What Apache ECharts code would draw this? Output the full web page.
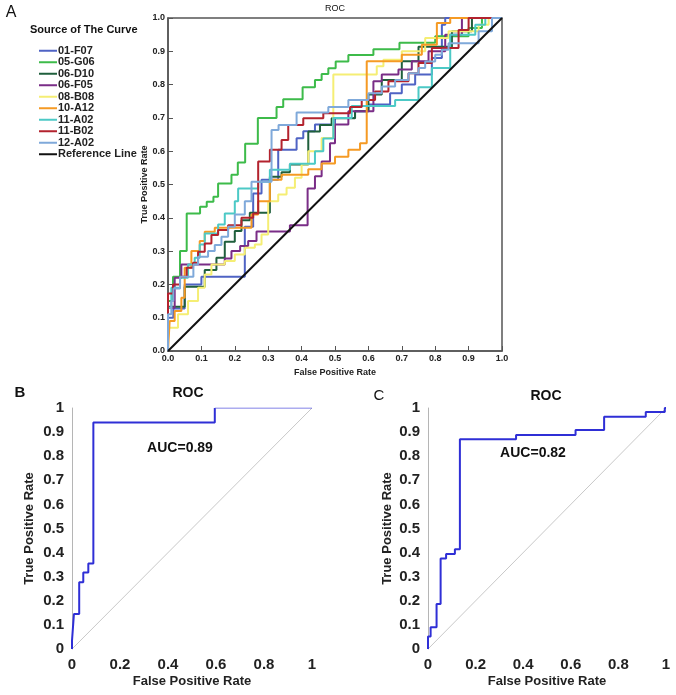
<!DOCTYPE html>
<html><head><meta charset="utf-8">
<script src="https://cdn.jsdelivr.net/npm/echarts@6/dist/echarts.min.js"></script>
<style>html,body{margin:0;padding:0;background:#fff}#c{width:676px;height:695px}</style>
</head><body><div id="c"></div><script>
// ---- Panel A data: ROC step curves [FPR, TPR] ----
const curveNamesA = ['01-F07','05-G06','06-D10','06-F05','08-B08','10-A12','11-A02','11-B02','12-A02','Reference Line'];
const curveColorsA = ['#4f63c4','#3dbb4a','#1f5f3c','#7a2d87','#f5ee74','#f59a24','#4cc9c6','#b3232e','#7fa9da','#111111'];

const c01F07 = [[0,0],[0,0.10],[0.016,0.10],[0.016,0.128],[0.05,0.128],[0.05,0.20],[0.10,0.20],[0.10,0.223],[0.23,0.223],[0.23,0.373],[0.255,0.373],[0.255,0.473],[0.28,0.473],[0.28,0.514],[0.33,0.514],[0.33,0.604],[0.385,0.604],[0.385,0.639],[0.405,0.639],[0.405,0.66],[0.44,0.66],[0.44,0.68],[0.50,0.68],[0.50,0.70],[0.56,0.70],[0.56,0.72],[0.60,0.72],[0.60,0.74],[0.665,0.74],[0.665,0.774],[0.70,0.774],[0.70,0.80],[0.74,0.80],[0.74,0.83],[0.79,0.83],[0.79,0.88],[0.82,0.88],[0.82,0.98],[0.83,0.98],[0.83,1],[1,1]];
const c05G06 = [[0,0],[0,0.15],[0.015,0.15],[0.015,0.223],[0.036,0.223],[0.036,0.30],[0.056,0.30],[0.056,0.413],[0.096,0.413],[0.096,0.433],[0.116,0.433],[0.116,0.448],[0.136,0.448],[0.136,0.463],[0.15,0.463],[0.15,0.503],[0.19,0.503],[0.19,0.529],[0.209,0.529],[0.209,0.566],[0.231,0.566],[0.231,0.622],[0.269,0.622],[0.269,0.70],[0.325,0.70],[0.325,0.733],[0.345,0.733],[0.345,0.756],[0.403,0.756],[0.403,0.792],[0.44,0.792],[0.44,0.814],[0.46,0.814],[0.46,0.832],[0.48,0.832],[0.48,0.849],[0.502,0.849],[0.502,0.869],[0.54,0.869],[0.54,0.889],[0.615,0.889],[0.615,0.906],[0.693,0.906],[0.693,0.926],[0.80,0.926],[0.80,0.945],[0.90,0.945],[0.90,0.97],[0.94,0.97],[0.94,1],[1,1]];
const c06D10 = [[0,0],[0,0.133],[0.05,0.133],[0.05,0.193],[0.11,0.193],[0.11,0.243],[0.145,0.243],[0.145,0.28],[0.17,0.28],[0.17,0.328],[0.2,0.328],[0.2,0.36],[0.22,0.36],[0.22,0.393],[0.245,0.393],[0.245,0.415],[0.305,0.415],[0.305,0.523],[0.34,0.523],[0.34,0.537],[0.365,0.537],[0.365,0.56],[0.42,0.56],[0.42,0.659],[0.455,0.659],[0.455,0.679],[0.49,0.679],[0.49,0.699],[0.56,0.699],[0.56,0.72],[0.60,0.72],[0.60,0.77],[0.64,0.77],[0.64,0.814],[0.70,0.814],[0.70,0.87],[0.75,0.87],[0.75,0.914],[0.85,0.914],[0.85,0.96],[0.91,0.96],[0.91,1],[1,1]];
const c06F05 = [[0,0],[0,0.13],[0.02,0.13],[0.02,0.22],[0.04,0.22],[0.04,0.26],[0.17,0.26],[0.17,0.278],[0.19,0.278],[0.19,0.30],[0.216,0.30],[0.216,0.315],[0.24,0.315],[0.24,0.33],[0.265,0.33],[0.265,0.359],[0.365,0.359],[0.365,0.378],[0.418,0.378],[0.418,0.488],[0.44,0.488],[0.44,0.525],[0.46,0.525],[0.46,0.569],[0.485,0.569],[0.485,0.624],[0.50,0.624],[0.50,0.68],[0.54,0.68],[0.54,0.72],[0.615,0.72],[0.615,0.81],[0.64,0.81],[0.64,0.83],[0.69,0.83],[0.69,0.845],[0.73,0.845],[0.73,0.87],[0.78,0.87],[0.78,0.9],[0.83,0.9],[0.83,0.95],[0.88,0.95],[0.88,1],[1,1]];
const c08B08 = [[0,0],[0,0.07],[0.03,0.07],[0.03,0.11],[0.06,0.11],[0.06,0.15],[0.09,0.15],[0.09,0.19],[0.11,0.19],[0.11,0.23],[0.13,0.23],[0.13,0.26],[0.17,0.26],[0.17,0.27],[0.2,0.27],[0.2,0.29],[0.23,0.29],[0.23,0.31],[0.26,0.31],[0.26,0.32],[0.28,0.32],[0.28,0.35],[0.30,0.35],[0.30,0.45],[0.33,0.45],[0.33,0.47],[0.355,0.47],[0.355,0.49],[0.38,0.49],[0.38,0.52],[0.40,0.52],[0.40,0.56],[0.42,0.56],[0.42,0.60],[0.46,0.60],[0.46,0.64],[0.495,0.64],[0.495,0.83],[0.625,0.83],[0.625,0.855],[0.645,0.855],[0.645,0.875],[0.70,0.875],[0.70,0.90],[0.77,0.90],[0.77,0.94],[0.84,0.94],[0.84,0.96],[0.93,0.96],[0.93,0.98],[0.96,0.98],[0.96,1],[1,1]];
const c10A12 = [[0,0],[0.005,0],[0.005,0.09],[0.02,0.09],[0.02,0.12],[0.04,0.12],[0.04,0.16],[0.05,0.16],[0.05,0.25],[0.07,0.25],[0.07,0.30],[0.095,0.30],[0.095,0.33],[0.11,0.33],[0.11,0.358],[0.14,0.358],[0.14,0.37],[0.25,0.37],[0.25,0.41],[0.27,0.41],[0.27,0.45],[0.305,0.45],[0.305,0.514],[0.34,0.514],[0.34,0.529],[0.42,0.529],[0.42,0.546],[0.46,0.546],[0.46,0.563],[0.50,0.563],[0.50,0.583],[0.54,0.583],[0.54,0.604],[0.575,0.604],[0.575,0.624],[0.595,0.624],[0.595,0.87],[0.70,0.87],[0.70,0.89],[0.76,0.89],[0.76,0.92],[0.805,0.92],[0.805,0.985],[0.845,0.985],[0.845,1],[1,1]];
const c11A02 = [[0,0],[0,0.13],[0.01,0.13],[0.01,0.19],[0.036,0.19],[0.036,0.22],[0.06,0.22],[0.06,0.26],[0.08,0.26],[0.08,0.28],[0.095,0.28],[0.095,0.32],[0.11,0.32],[0.11,0.353],[0.15,0.353],[0.15,0.38],[0.17,0.38],[0.17,0.413],[0.2,0.413],[0.2,0.45],[0.21,0.45],[0.21,0.488],[0.27,0.488],[0.27,0.508],[0.305,0.508],[0.305,0.544],[0.365,0.544],[0.365,0.562],[0.44,0.562],[0.44,0.60],[0.465,0.60],[0.465,0.638],[0.495,0.638],[0.495,0.70],[0.55,0.70],[0.55,0.736],[0.68,0.736],[0.68,0.754],[0.75,0.754],[0.75,0.792],[0.79,0.792],[0.79,0.85],[0.845,0.85],[0.845,0.95],[0.92,0.95],[0.92,0.98],[0.95,0.98],[0.95,1],[1,1]];
const c11B02 = [[0,0],[0,0.173],[0.015,0.173],[0.015,0.20],[0.036,0.20],[0.036,0.223],[0.056,0.223],[0.056,0.25],[0.075,0.25],[0.075,0.265],[0.09,0.265],[0.09,0.298],[0.11,0.298],[0.11,0.323],[0.13,0.323],[0.13,0.348],[0.15,0.348],[0.15,0.363],[0.18,0.363],[0.18,0.378],[0.22,0.378],[0.22,0.40],[0.255,0.40],[0.255,0.413],[0.27,0.413],[0.27,0.569],[0.305,0.569],[0.305,0.604],[0.34,0.604],[0.34,0.634],[0.36,0.634],[0.36,0.679],[0.405,0.679],[0.405,0.699],[0.465,0.699],[0.465,0.714],[0.545,0.714],[0.545,0.733],[0.58,0.733],[0.58,0.754],[0.62,0.754],[0.62,0.779],[0.66,0.779],[0.66,0.81],[0.72,0.81],[0.72,0.834],[0.75,0.834],[0.75,0.865],[0.79,0.865],[0.79,0.91],[0.87,0.91],[0.87,0.964],[0.90,0.964],[0.90,1],[1,1]];
const c12A02 = [[0,0],[0,0.11],[0.01,0.11],[0.01,0.15],[0.016,0.15],[0.016,0.188],[0.036,0.188],[0.036,0.223],[0.076,0.223],[0.076,0.26],[0.09,0.26],[0.09,0.283],[0.12,0.283],[0.12,0.30],[0.14,0.30],[0.14,0.318],[0.16,0.318],[0.16,0.343],[0.18,0.343],[0.18,0.373],[0.20,0.373],[0.20,0.41],[0.23,0.41],[0.23,0.45],[0.25,0.45],[0.25,0.508],[0.31,0.508],[0.31,0.664],[0.331,0.664],[0.331,0.679],[0.385,0.679],[0.385,0.716],[0.48,0.716],[0.48,0.733],[0.54,0.733],[0.54,0.754],[0.60,0.754],[0.60,0.774],[0.64,0.774],[0.64,0.794],[0.68,0.794],[0.68,0.814],[0.72,0.814],[0.72,0.834],[0.75,0.834],[0.75,0.85],[0.77,0.85],[0.77,0.869],[0.80,0.869],[0.80,0.89],[0.82,0.89],[0.82,0.905],[0.84,0.905],[0.84,0.924],[0.93,0.924],[0.93,0.96],[0.97,0.96],[0.97,1],[1,1]];
const refLine = [[0,0],[1,1]];
const curvesA = [c01F07,c05G06,c06D10,c06F05,c08B08,c10A12,c11A02,c11B02,c12A02,refLine];

// ---- Panel B data ----
const curveB = [[0,0],[0,0.035],[0.008,0.035],[0.008,0.145],[0.03,0.145],[0.03,0.277],[0.047,0.277],[0.047,0.317],[0.068,0.317],[0.068,0.355],[0.089,0.355],[0.089,0.94],[0.595,0.94],[0.595,1]];
const tailB = [[0.595,1],[1,1]];
const aucB = 'AUC=0.89';

// ---- Panel C data ----
const curveC = [[0,0],[0,0.052],[0.011,0.052],[0.011,0.09],[0.036,0.09],[0.036,0.187],[0.053,0.187],[0.053,0.376],[0.076,0.376],[0.076,0.394],[0.113,0.394],[0.113,0.414],[0.134,0.414],[0.134,0.87],[0.37,0.87],[0.37,0.888],[0.62,0.888],[0.62,0.909],[0.74,0.909],[0.74,0.964],[0.915,0.964],[0.915,0.983],[0.995,0.983],[0.995,1],[1,1]];
const aucC = 'AUC=0.82';

const FONT = '"Liberation Sans", Arial, sans-serif';
const chart = echarts.init(document.getElementById('c'), null, {renderer:'canvas'});

function axisA(isX){
  return {
    type:'value', gridIndex:0, min:0, max:1, interval:0.1,
    name: isX ? 'False Positive Rate' : 'True Positive Rate',
    nameLocation:'middle', nameGap: isX ? 17 : 18,
    nameTextStyle:{fontFamily:FONT,fontSize:9,fontWeight:'bold',color:'#222'},
    axisLine:{show:true,lineStyle:{color:'#555',width:1.5}},
    axisTick:{show:true,inside:true,length:5,lineStyle:{color:'#555',width:1}},
    axisLabel:{fontFamily:FONT,fontSize:9,fontWeight:'bold',color:'#222',margin:3,formatter:v=>v.toFixed(1)},
    splitLine:{show:false}
  };
}
function axisBC(isX, gi, gapName){
  return {
    type:'value', gridIndex:gi, min:0, max:1, interval: isX ? 0.2 : 0.1,
    name: isX ? 'False Positive Rate' : 'True Positive Rate',
    nameLocation:'middle', nameGap: gapName,
    nameTextStyle:{fontFamily:FONT,fontSize:13,fontWeight:'bold',color:'#222'},
    axisLine:{show:!isX,lineStyle:{color:'#b5b5b5',width:1}},
    axisTick:{show:false},
    axisLabel:{fontFamily:FONT,fontSize:15,fontWeight:'bold',color:'#222',margin:8,
      formatter:v=>String(Math.round(v*10)/10)},
    splitLine:{show:false}
  };
}

const series = curvesA.map((d,i)=>({
  name: curveNamesA[i], type:'line', xAxisIndex:0, yAxisIndex:0, data:d,
  symbol:'none', showSymbol:false, silent:true,
  lineStyle:{color:curveColorsA[i], width:2}, itemStyle:{color:curveColorsA[i]},
  z: i===9 ? 3 : 2
}));
series.push(
  {type:'line',xAxisIndex:1,yAxisIndex:1,data:refLine,symbol:'none',lineStyle:{color:'#c8c8c8',width:1}},
  {type:'line',xAxisIndex:1,yAxisIndex:1,data:curveB,symbol:'none',lineStyle:{color:'#2f2fd6',width:2}},
  {type:'line',xAxisIndex:1,yAxisIndex:1,data:tailB,symbol:'none',lineStyle:{color:'#5a5ae0',width:1}},
  {type:'line',xAxisIndex:2,yAxisIndex:2,data:refLine,symbol:'none',lineStyle:{color:'#c8c8c8',width:1}},
  {type:'line',xAxisIndex:2,yAxisIndex:2,data:curveC,symbol:'none',lineStyle:{color:'#2f2fd6',width:2}}
);

function txt(x,y,text,font,align){
  return {type:'text',x:x,y:y,silent:true,style:{text:text,font:font,fill:'#111',align:align||'center',verticalAlign:'middle'}};
}

chart.setOption({
  animation:false,
  backgroundColor:'#fff',
  grid:[
    {left:168,top:18,width:334,height:333,show:true,borderColor:'#555',borderWidth:1.5,backgroundColor:'transparent'},
    {left:72,top:408,width:240,height:241},
    {left:428,top:408,width:238,height:241}
  ],
  xAxis:[axisA(true), axisBC(true,1,26), axisBC(true,2,26)],
  yAxis:[axisA(false), axisBC(false,1,36), axisBC(false,2,34)],
  legend:{
    left:34, top:40, orient:'vertical', icon:'rect', itemWidth:18, itemHeight:2, itemGap:0,
    selectedMode:false,
    textStyle:{fontFamily:FONT,fontSize:11,fontWeight:'bold',color:'#222',lineHeight:11.5,padding:[0,0,0,-4]},
    data:curveNamesA
  },
  graphic:[
    txt(11,13,'A','16px '+FONT),
    txt(30,30,'Source of The Curve','bold 11px '+FONT,'left'),
    txt(335,9,'ROC','9px '+FONT),
    txt(20,393,'B','bold 15px '+FONT),
    txt(188,393,'ROC','bold 14px '+FONT),
    txt(180,448,aucB,'bold 14px '+FONT),
    txt(379,396,'C','15px '+FONT),
    txt(546,396,'ROC','bold 14px '+FONT),
    txt(533,453,aucC,'bold 14px '+FONT)
  ],
  series:series
});
</script></body></html>
